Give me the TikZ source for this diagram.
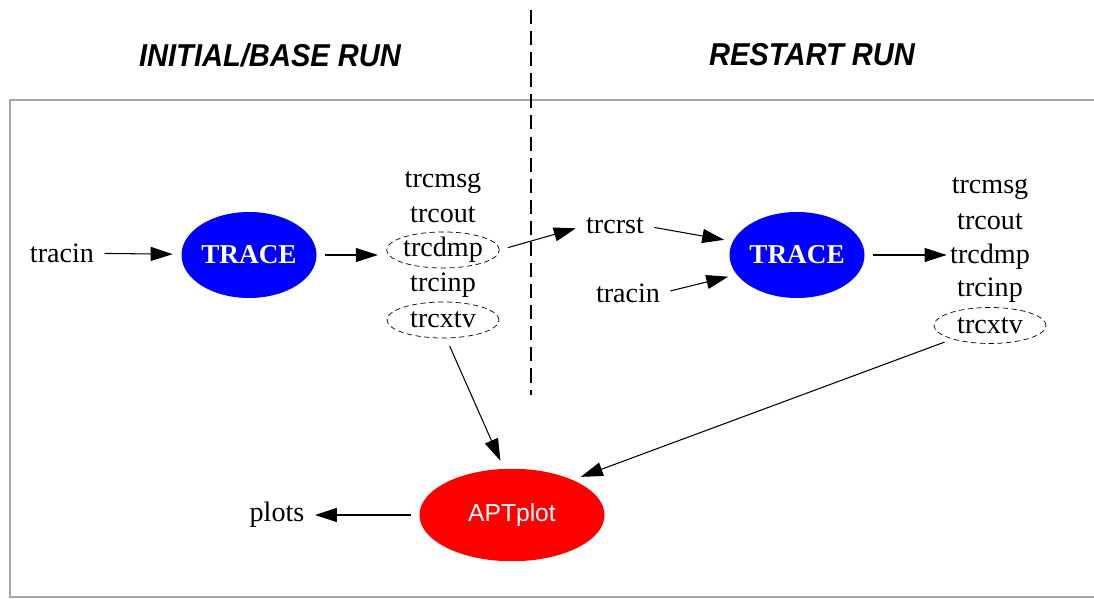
\documentclass[tikz,border=0pt]{standalone}
\usepackage{fontspec}
\setmainfont{Liberation Serif}
\setsansfont{Liberation Sans}
\usetikzlibrary{arrows.meta,shapes.geometric,positioning,calc}

\tikzset{
  file/.style={font=\fontsize{16}{19}\selectfont, inner sep=1pt},
  dfile/.style={file, draw, dash pattern=on 3pt off 2pt, ellipse, minimum width=2.24cm, minimum height=0.72cm, inner sep=0pt},
  code/.style={ellipse, fill=blue, text=white, font=\fontsize{15.5}{18}\selectfont\bfseries, minimum width=2.7cm, minimum height=1.72cm, inner sep=0pt},
  plotter/.style={ellipse, fill=red, text=white, font=\sffamily\fontsize{14}{17}\selectfont, minimum width=3.7cm, minimum height=1.85cm, inner sep=0pt},
  flow/.style={-{Triangle[length=0.44cm,width=0.28cm]}, semithick, shorten <=0.17cm, shorten >=0.17cm},
  runtitle/.style={font=\sffamily\bfseries\itshape\fontsize{18}{21}\selectfont}
}

\begin{document}
\begin{tikzpicture}
  \useasboundingbox (0,0) rectangle (21.88,11.98);

  % Frame and run titles
  \draw[gray!70, line width=1.2pt] (21.88,9.98) -- (0.2,9.98) -- (0.2,0.04) -- (21.88,0.04);
  \node[runtitle] (tbase) at (5.4,10.88) {\scalebox{0.92}[1]{INITIAL/BASE RUN}};
  \node[runtitle] (trest) at (16.24,10.88) {\scalebox{0.92}[1]{RESTART RUN}};
  \draw[dash pattern=on 8pt off 4pt, thick] (10.62,11.78) -- (10.62,4.08);

  % Initial/base run
  \node[file] (tracinA) at (1.24,6.92) {tracin};
  \node[code] (traceA) at (4.98,6.88) {TRACE};
  \node[file] (msgA) at (8.86,8.32) {trcmsg};
  \node[file] (outA) at (8.86,7.68) {trcout};
  \node[dfile] (dmpA) at (8.86,6.98) {trcdmp};
  \node[file] (inpA) at (8.86,6.28) {trcinp};
  \node[dfile] (xtvA) at (8.86,5.58) {trcxtv};

  % Restart run
  \node[file] (rst) at (12.3,7.46) {trcrst};
  \node[file] (tracinB) at (12.56,6.12) {tracin};
  \node[code] (traceB) at (15.94,6.88) {TRACE};
  \node[file] (msgB) at (19.8,8.2) {trcmsg};
  \node[file] (outB) at (19.8,7.54) {trcout};
  \node[file] (dmpB) at (19.8,6.85) {trcdmp};
  \node[file] (inpB) at (19.8,6.17) {trcinp};
  \node[dfile] (xtvB) at (19.8,5.47) {trcxtv};

  % Plotting
  \node[plotter] (apt) at (10.24,1.68) {APTplot};
  \node[file] (plots) at (5.54,1.68) {plots};

  % Connectors
  \draw[flow] (tracinA) -- (traceA);
  \draw[flow] (traceA) -- (traceA -| dmpA.west);
  \draw[flow] (dmpA.east) -- (rst.west);
  \draw[flow] (rst.east) -- (traceB.168);
  \draw[flow] (tracinB.east) -- (traceB.198);
  \draw[flow] (traceB) -- (traceB -| inpB.west);
  \draw[flow] (xtvA.-80) -- (apt.100);
  \draw[flow] (xtvB.200) -- (apt.30);
  \draw[flow] (apt) -- (plots);
\end{tikzpicture}
\end{document}
